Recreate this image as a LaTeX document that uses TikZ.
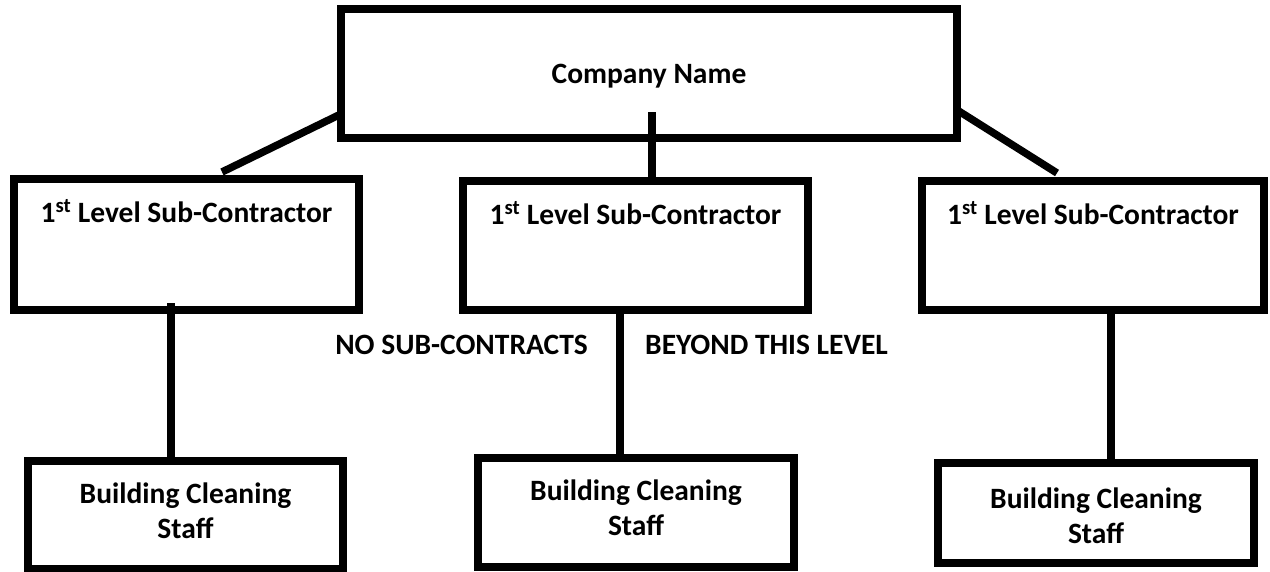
\documentclass[tikz,border=0pt]{standalone}
\usepackage{fontspec}
\setmainfont{Carlito}
\usetikzlibrary{calc}
\begin{document}
\begin{tikzpicture}[x=1pt,y=-1pt,
  box/.style={draw=black,line width=8pt,rectangle,inner sep=0pt,outer sep=0pt,line join=miter},
  conn/.style={draw=black,line width=7.5pt},
  lbl/.style={font=\fontsize{29.5}{35}\selectfont\bfseries,inner sep=0pt,align=center}]
\useasboundingbox[fill=white] (0,0) rectangle (1270,571);
% boxes
\node[box,minimum width=616pt,minimum height=129pt] (top) at (649,73.5) {};
\node[box,minimum width=345pt,minimum height=131pt] (l1a) at (186.5,244.5) {};
\node[box,minimum width=345pt,minimum height=129pt] (l1b) at (635.5,245.5) {};
\node[box,minimum width=342pt,minimum height=129pt] (l1c) at (1093,245.5) {};
\node[box,minimum width=315pt,minimum height=108pt] (b1) at (185.5,515) {};
\node[box,minimum width=316pt,minimum height=109pt] (b2) at (636,512.5) {};
\node[box,minimum width=316pt,minimum height=100pt] (b3) at (1096,513) {};
% texts
\node[lbl,anchor=base] (tname) at ($(top.north)+(0,74)$) {Company Name};
\node[lbl,anchor=base] (ta) at ($(l1a.north)+(0,43)$) {1\textsuperscript{st} Level Sub-Contractor};
\node[lbl,anchor=base] (tb) at ($(l1b.north)+(0,43)$) {1\textsuperscript{st} Level Sub-Contractor};
\node[lbl,anchor=base] (tc) at ($(l1c.north)+(0,43)$) {1\textsuperscript{st} Level Sub-Contractor};
\node[lbl,anchor=base] (s1) at ($(b1.north)+(0,77)$) {Building Cleaning\\Staff};
\node[lbl,anchor=base] (s2) at ($(b2.north)+(0,77)$) {Building Cleaning\\Staff};
\node[lbl,anchor=base] (s3) at ($(b3.north)+(0,80)$) {Building Cleaning\\Staff};
\node[lbl,anchor=base east] (nosub) at (588,354) {NO SUB-CONTRACTS};
\node[lbl,anchor=base west] (beyond) at (645,354) {BEYOND THIS LEVEL};
% connectors
\draw[conn] ($(top.south west)+(2,-25)$) -- ($(l1a.north)+(35.5,-7)$);
\draw[conn] ($(top.south east)+(0,-28)$) -- ($(l1c.north)+(-36,-8)$);
\coordinate (cs) at ($(top.south)+(3,-26)$);
\draw[conn] (cs) -- (cs |- l1b.north);
\coordinate (va) at ($(l1a.south)+(-15.5,-7)$);
\draw[conn] (va) -- (va |- b1.north);
\coordinate (vb) at ($(l1b.south)+(-15.5,0)$);
\draw[conn] (vb) -- (vb |- b2.north);
\coordinate (vc) at ($(l1c.south)+(18,0)$);
\draw[conn] (vc) -- (vc |- b3.north);
\end{tikzpicture}
\end{document}
